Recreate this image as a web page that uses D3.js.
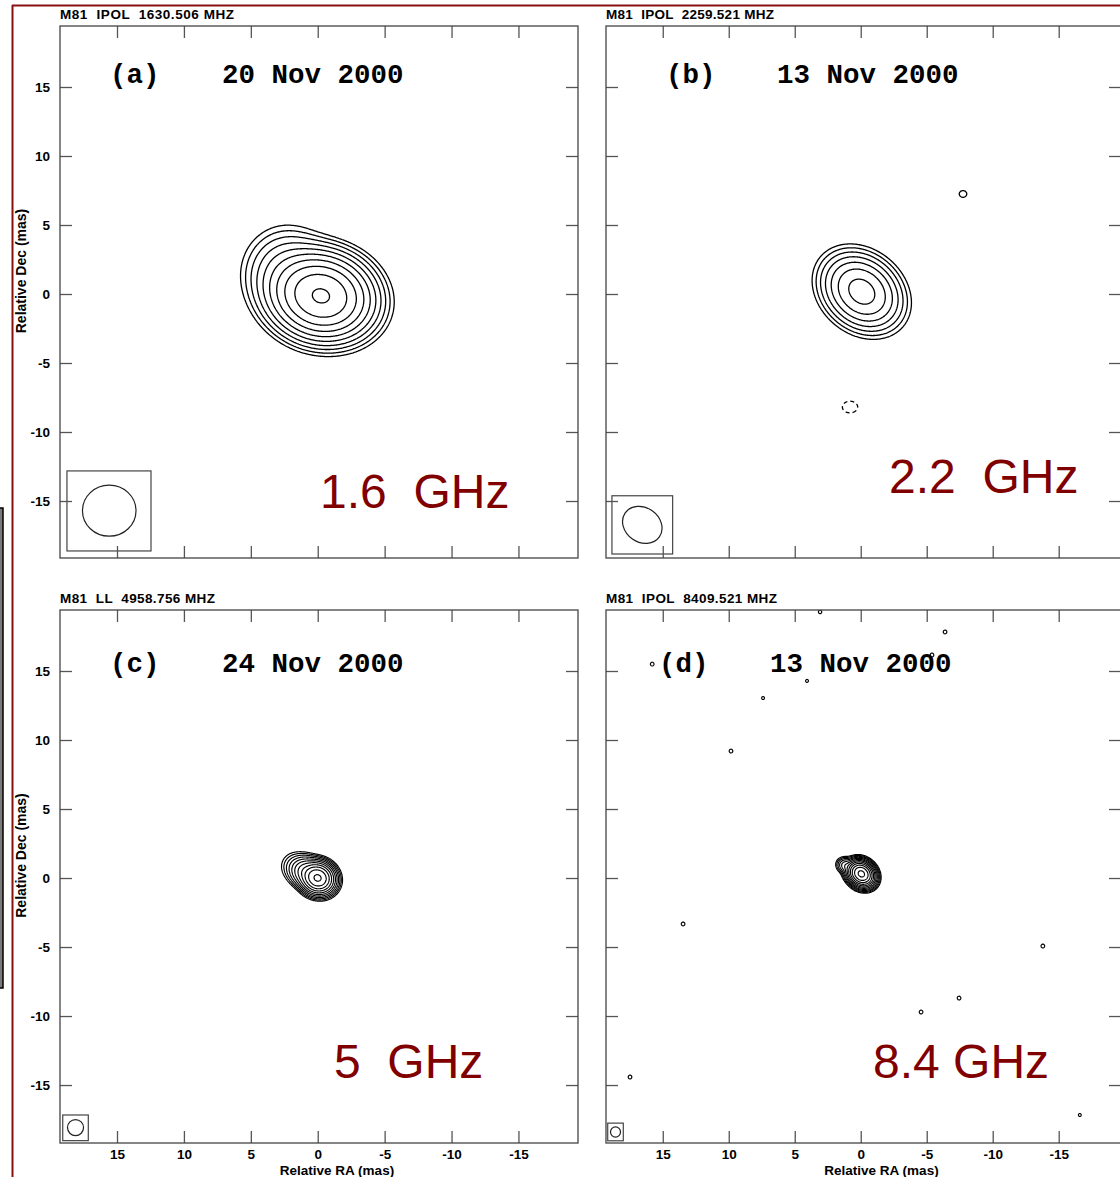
<!DOCTYPE html>
<html><head><meta charset="utf-8">
<script src="https://cdn.jsdelivr.net/npm/d3@7"></script>
<style>
body{margin:0;background:#fff;}
svg{display:block;}
.sans{font-family:"Liberation Sans",Arial,Helvetica,sans-serif;}
</style></head><body>
<svg id="c" width="1120" height="1177"></svg>
<script>
// ---------------- DATA ----------------
const headers = ["M81  IPOL  1630.506 MHZ","M81  IPOL  2259.521 MHZ","M81  LL  4958.756 MHZ","M81  IPOL  8409.521 MHZ"];
const panelTags = ["(a)","(b)","(c)","(d)"];
const epochs = ["20 Nov 2000","13 Nov 2000","24 Nov 2000","13 Nov 2000"];
const freqLabels = ["1.6  GHz","2.2  GHz","5  GHz","8.4 GHz"];
const raTicks = [15,10,5,0,-5,-10,-15];
const decTicks = [15,10,5,0,-5,-10,-15];
const xTitle = "Relative RA (mas)";
const yTitle = "Relative Dec (mas)";

// Gaussian components per map: [RA, Dec, sigmaMaj, sigmaMin, angle(deg from +RA toward +Dec), amplitude]
const compsA = [[-0.25,-0.14,1.55,1.22,12,1],[2.3,1.6,1.4,1.4,0,0.032]];
const compsB = [[-0.08,0.17,1.35,1.05,35,1],[-7.75,7.25,0.35,0.3,0,0.016],[0.81,-8.19,0.55,0.4,0,-0.02]];
const compsC = [[0,0,0.5,0.44,20,1],[0.9,0.45,0.5,0.45,20,0.08],[1.6,0.8,0.55,0.5,20,0.006]];
const compsD = [[-0.05,0.3,0.4,0.33,35,1],[1.15,0.9,0.3,0.25,20,0.01],[0.6,0.5,0.3,0.3,0,0.015],
  [3.08,19.28,0.12,0.12,0,0.0007],[-6.39,17.83,0.13,0.13,0,0.0007],[-5.4,16.16,0.13,0.13,0,0.0007],
  [15.8,15.5,0.13,0.13,0,0.0007],[7.4,13.04,0.12,0.12,0,0.0006],[4.07,14.28,0.12,0.12,0,0.0006],
  [9.83,9.2,0.13,0.13,0,0.0007],[13.46,-3.33,0.13,0.13,0,0.0007],[-13.8,-4.93,0.13,0.13,0,0.0007],
  [-7.45,-8.7,0.13,0.13,0,0.0007],[-4.57,-9.71,0.13,0.13,0,0.0007],[17.48,-14.42,0.13,0.13,0,0.0007],
  [-16.6,-17.17,0.12,0.12,0,0.0006]];

// contour levels (fraction of peak)
const levelsA = [0.0018,0.0036,0.0072,0.0144,0.0288,0.0576,0.115,0.23,0.46,0.92];
const levelsB = [0.0115,0.023,0.046,0.092,0.184,0.368,0.736];
const levelsC = [0.00085,0.0017,0.0034,0.0068,0.0136,0.027,0.054,0.11,0.22,0.44,0.88];
const levelsD = [0.0004,0.0008,0.0016,0.0032,0.0064,0.0128,0.0256,0.0512,0.1024,0.2048,0.4096,0.8192];

// restoring beams: [RA, Dec, semiMaj, semiMin, angle(deg)] and beam boxes [RA, Dec, width, height] (mas)
const beams = [[15.58,-15.7,2.0,1.85,0],[16.55,-16.73,1.58,1.25,35],[18.1,-18.08,0.6,0.58,0],[18.58,-18.4,0.38,0.37,0]];
const beamBoxes = [[15.6,-15.72,6.28,5.8],[16.55,-16.73,4.6,4.22],[18.1,-18.1,1.91,1.86],[18.58,-18.4,1.18,1.28]];

const comps = [compsA,compsB,compsC,compsD];
const levels = [levelsA,levelsB,levelsC,levelsD];

// ---------------- LAYOUT ----------------
const layout = [
 {x0:60,x1:578,y0:26,y1:558, ra:[19.26,-19.45], dec:[19.42,-19.13], yLab:true, xLab:false, step:0.07,
  tag:[110,83], ep:[222,83], fr:[320,508], hdLen:174},
 {x0:606,x1:1121,y0:26,y1:558, ra:[19.3,-19.72], dec:[19.42,-19.13], yLab:false, xLab:false, step:0.05,
  tag:[666,83], ep:[777,83], fr:[889,493], hdLen:168},
 {x0:60,x1:578,y0:610,y1:1143, ra:[19.26,-19.45], dec:[19.42,-19.2], yLab:true, xLab:true, step:0.04,
  tag:[110,672], ep:[222,672], fr:[334,1078], hdLen:155},
 {x0:606,x1:1121,y0:610,y1:1143, ra:[19.3,-19.72], dec:[19.42,-19.2], yLab:false, xLab:true, step:0.04,
  tag:[659,672], ep:[770,672], fr:[873,1078], hdLen:171}
];

const svg = d3.select("#c");
const RED = "#8a1010", FRAME = "#444";

// outer red border and side bar
svg.append("line").attr("x1",12.5).attr("y1",5).attr("x2",12.5).attr("y2",1177).attr("stroke",RED).attr("stroke-width",2);
svg.append("line").attr("x1",12).attr("y1",5.5).attr("x2",1120).attr("y2",5.5).attr("stroke",RED).attr("stroke-width",2);
svg.append("rect").attr("x",-4).attr("y",508).attr("width",7).attr("height",480).attr("fill","#7a7a7a").attr("stroke","#000").attr("stroke-width",1.5);

function makeField(L, cs, sign) {
  const step = L.step;
  const n = Math.ceil((L.ra[0]-L.ra[1])/step)+1;
  const m = Math.ceil((L.dec[0]-L.dec[1])/step)+1;
  const v = new Float64Array(n*m);
  cs.forEach(([ra,dec,sa,sb,th,amp])=>{
    if (amp*sign <= 0) return;
    const t = th*Math.PI/180, c = Math.cos(t), s = Math.sin(t);
    const R = 6*Math.max(sa,sb);
    const i0 = Math.max(0, Math.floor((L.ra[0]-(ra+R))/step)), i1 = Math.min(n-1, Math.ceil((L.ra[0]-(ra-R))/step));
    const j0 = Math.max(0, Math.floor((L.dec[0]-(dec+R))/step)), j1 = Math.min(m-1, Math.ceil((L.dec[0]-(dec-R))/step));
    const A = Math.abs(amp);
    for (let j=j0;j<=j1;j++){
      const dd = (L.dec[0]-j*step)-dec;
      for (let i=i0;i<=i1;i++){
        const dr = (L.ra[0]-i*step)-ra;
        const a = dr*c+dd*s, b = -dr*s+dd*c;
        v[j*n+i] += A*Math.exp(-0.5*(a*a/(sa*sa)+b*b/(sb*sb)));
      }
    }
  });
  return {n,m,v};
}

const fmt = d => String(d);

layout.forEach((L,p)=>{
  const x = d3.scaleLinear().domain(L.ra).range([L.x0,L.x1]);
  const y = d3.scaleLinear().domain(L.dec).range([L.y0,L.y1]);
  const g = svg.append("g");
  const clipId = "clip"+p;
  svg.append("clipPath").attr("id",clipId).append("rect")
    .attr("x",L.x0).attr("y",L.y0).attr("width",L.x1-L.x0).attr("height",L.y1-L.y0);

  // contours
  const cg = g.append("g").attr("clip-path",`url(#${clipId})`);
  const proj = d3.geoTransform({point:function(gx,gy){
    this.stream.point(x(L.ra[0]-(gx-0.5)*L.step), y(L.dec[0]-(gy-0.5)*L.step));
  }});
  const path = d3.geoPath(proj);
  [1,-1].forEach(sign=>{
    const F = makeField(L, comps[p], sign);
    const cons = d3.contours().size([F.n,F.m]).thresholds(levels[p])(F.v);
    cg.selectAll(null).data(cons.filter(d=>d.coordinates.length)).join("path")
      .attr("d",path).attr("fill","none").attr("stroke","#000")
      .attr("stroke-width",p>=2?1.15:1.3)
      .attr("stroke-dasharray",sign<0?"4,3":null);
  });

  // beam box and beam
  const bb = beamBoxes[p], bm = beams[p];
  g.append("rect").attr("x",x(bb[0]+bb[2]/2)).attr("y",y(bb[1]+bb[3]/2))
    .attr("width",x(bb[0]-bb[2]/2)-x(bb[0]+bb[2]/2)).attr("height",y(bb[1]-bb[3]/2)-y(bb[1]+bb[3]/2))
    .attr("fill","#fff").attr("stroke",FRAME).attr("stroke-width",1.2);
  g.append("ellipse").attr("cx",x(bm[0])).attr("cy",y(bm[1]))
    .attr("rx",x(bm[0]-bm[2])-x(bm[0])).attr("ry",y(bm[1]-bm[3])-y(bm[1]))
    .attr("transform",`rotate(${bm[4]},${x(bm[0])},${y(bm[1])})`)
    .attr("fill","none").attr("stroke","#222").attr("stroke-width",1.2);

  // axes with inward ticks
  const tk = 12;
  const styleAxis = sel=>{
    sel.attr("font-family","Liberation Sans, Arial, sans-serif");
    sel.select(".domain").remove();
    sel.selectAll(".tick line").attr("stroke","#555").attr("stroke-width",1.3);
    sel.selectAll(".tick text").attr("font-size",13.5).attr("font-weight","bold").attr("fill","#000");
  };
  g.append("g").attr("transform",`translate(0,${L.y0})`)
    .call(d3.axisTop(x).tickValues(raTicks).tickSize(-tk).tickFormat("")).call(styleAxis);
  g.append("g").attr("transform",`translate(0,${L.y1})`)
    .call(d3.axisBottom(x).tickValues(raTicks).tickSize(-tk).tickPadding(6).tickFormat(L.xLab?fmt:"")).call(styleAxis);
  g.append("g").attr("transform",`translate(${L.x0},0)`)
    .call(d3.axisLeft(y).tickValues(decTicks).tickSize(-tk).tickPadding(10).tickFormat(L.yLab?fmt:"")).call(styleAxis);
  g.append("g").attr("transform",`translate(${L.x1},0)`)
    .call(d3.axisRight(y).tickValues(decTicks).tickSize(-tk).tickFormat("")).call(styleAxis);

  // frame
  g.append("rect").attr("x",L.x0).attr("y",L.y0).attr("width",L.x1-L.x0).attr("height",L.y1-L.y0)
    .attr("fill","none").attr("stroke",FRAME).attr("stroke-width",1.3);

  // header
  g.append("text").attr("class","sans").attr("x",L.x0).attr("y",L.y0-7)
    .attr("font-size",13.5).attr("font-weight","bold").attr("xml:space","preserve")
    .style("white-space","pre").attr("textLength",L.hdLen).attr("lengthAdjust","spacing")
    .text(headers[p]);

  // panel tag + epoch
  g.append("text").attr("x",L.tag[0]).attr("y",L.tag[1]).attr("font-family","Liberation Mono, Courier New, monospace")
    .attr("font-weight","bold").attr("font-size",27.5).text(panelTags[p]);
  g.append("text").attr("x",L.ep[0]).attr("y",L.ep[1]).attr("font-family","Liberation Mono, Courier New, monospace")
    .attr("font-weight","bold").attr("font-size",27.5).attr("xml:space","preserve").style("white-space","pre").text(epochs[p]);

  // frequency
  g.append("text").attr("class","sans").attr("x",L.fr[0]).attr("y",L.fr[1]).attr("font-size",48)
    .attr("fill","#800000").attr("xml:space","preserve").style("white-space","pre").text(freqLabels[p]);

  // axis titles
  if (L.yLab) {
    const cy = (L.y0+L.y1)/2 - 21;
    g.append("text").attr("class","sans").attr("transform",`translate(26,${cy}) rotate(-90)`)
      .attr("text-anchor","middle").attr("font-size",14).attr("font-weight","bold").text(yTitle);
  }
  if (L.xLab) {
    g.append("text").attr("class","sans").attr("x",(L.x0+L.x1)/2+18).attr("y",1175)
      .attr("text-anchor","middle").attr("font-size",13.5).attr("font-weight","bold").text(xTitle);
  }
});
</script>
</body></html>
